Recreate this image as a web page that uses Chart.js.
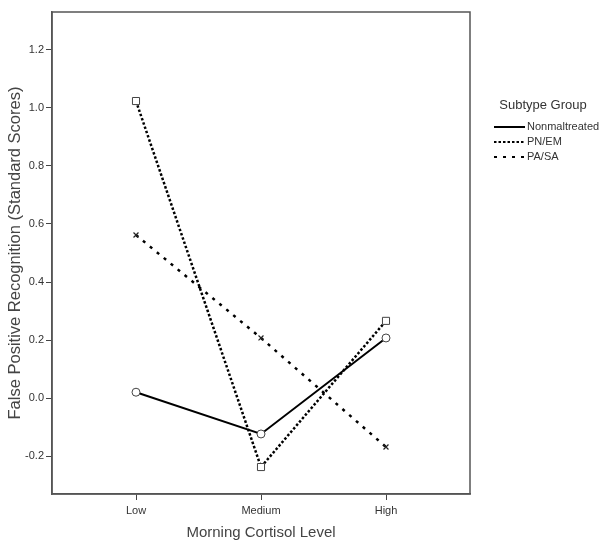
<!DOCTYPE html>
<html>
<head>
<meta charset="utf-8">
<script src="https://cdn.jsdelivr.net/npm/chart.js@4.4.1/dist/chart.umd.min.js"></script>
<style>
  html, body { margin: 0; padding: 0; background: #fff; }
  #wrap { width: 600px; height: 549px; }
</style>
</head>
<body>
<div id="wrap"><canvas id="chart" width="600" height="549"></canvas></div>
<script>
const categories = ['Low', 'Medium', 'High'];
const yTicks = [-0.2, 0.0, 0.2, 0.4, 0.6, 0.8, 1.0, 1.2];
const nonmaltreated = [0.02, -0.124, 0.207];
const pnem = [1.024, -0.238, 0.266];
const pasa = [0.562, 0.207, -0.169];

const toPoints = vals => vals.map((v, i) => ({ x: i, y: v }));

// box around the plot + SPSS style legend on the right
const extras = {
    id: 'extras',
    afterDraw(chart) {
        const c = chart.ctx;
        const a = chart.chartArea;
        c.save();
        c.strokeStyle = '#555';
        c.lineWidth = 1.5;
        c.strokeRect(a.left, a.top, a.right - a.left, a.bottom - a.top);

        c.fillStyle = '#333';
        c.font = '13px "Liberation Sans", Arial, sans-serif';
        c.textAlign = 'center';
        c.textBaseline = 'middle';
        c.fillText('Subtype Group', 543, 105);

        c.font = '11px "Liberation Sans", Arial, sans-serif';
        c.textAlign = 'left';
        chart.data.datasets.forEach((ds, i) => {
            const y = 127 + i * 15;
            c.strokeStyle = '#000';
            c.lineWidth = 2;
            c.setLineDash(ds.borderDash || []);
            c.beginPath();
            c.moveTo(494, y);
            c.lineTo(525, y);
            c.stroke();
            c.setLineDash([]);
            c.fillText(ds.label, 527, y);
        });
        c.restore();
    }
};

new Chart(document.getElementById('chart'), {
    type: 'line',
    data: {
        datasets: [
            {
                label: 'Nonmaltreated',
                data: toPoints(nonmaltreated),
                borderColor: '#000',
                borderWidth: 2,
                pointStyle: 'circle',
                pointRadius: 4,
                pointBorderColor: '#444',
                pointBackgroundColor: '#fff',
                pointBorderWidth: 1
            },
            {
                label: 'PN/EM',
                data: toPoints(pnem),
                borderColor: '#000',
                borderWidth: 2.5,
                borderDash: [2.5, 2],
                pointStyle: 'rect',
                pointRadius: 5,
                pointBorderColor: '#444',
                pointBackgroundColor: '#fff',
                pointBorderWidth: 1
            },
            {
                label: 'PA/SA',
                data: toPoints(pasa),
                borderColor: '#000',
                borderWidth: 2.5,
                borderDash: [3, 6],
                pointStyle: 'crossRot',
                pointRadius: 3.5,
                pointBorderColor: '#222',
                pointBorderWidth: 1.2
            }
        ]
    },
    options: {
        responsive: false,
        animation: false,
        layout: { padding: { top: 12, right: 130, left: 0, bottom: 0 } },
        plugins: {
            legend: { display: false },
            tooltip: { enabled: false }
        },
        scales: {
            x: {
                type: 'linear',
                min: -0.672,
                max: 2.672,
                afterBuildTicks: axis => { axis.ticks = categories.map((c, i) => ({ value: i })); },
                afterFit: axis => { axis.height = 55; },
                ticks: {
                    callback: v => categories[v],
                    color: '#333',
                    font: { family: '"Liberation Sans", Arial, sans-serif', size: 11 },
                    padding: 4,
                    maxRotation: 0
                },
                grid: { drawOnChartArea: false, drawTicks: true, tickLength: 6, color: '#444', lineWidth: 1 },
                border: { display: true, color: '#555', width: 1.5 },
                title: {
                    display: true,
                    text: 'Morning Cortisol Level',
                    color: '#444',
                    font: { family: '"Liberation Sans", Arial, sans-serif', size: 15 },
                    padding: { top: 2, bottom: 7 }
                }
            },
            y: {
                min: -0.331,
                max: 1.331,
                afterBuildTicks: axis => { axis.ticks = yTicks.map(v => ({ value: v })); },
                afterFit: axis => { axis.width = 52; },
                ticks: {
                    callback: v => v.toFixed(1),
                    color: '#333',
                    font: { family: '"Liberation Sans", Arial, sans-serif', size: 11 },
                    padding: 2
                },
                grid: { drawOnChartArea: false, drawTicks: true, tickLength: 6, color: '#444', lineWidth: 1 },
                border: { display: true, color: '#555', width: 1.5 },
                title: {
                    display: true,
                    text: 'False Positive Recognition (Standard Scores)',
                    color: '#444',
                    font: { family: '"Liberation Sans", Arial, sans-serif', size: 16.5 },
                    padding: { top: 6, bottom: 0 }
                }
            }
        }
    },
    plugins: [extras]
});
</script>
</body>
</html>
